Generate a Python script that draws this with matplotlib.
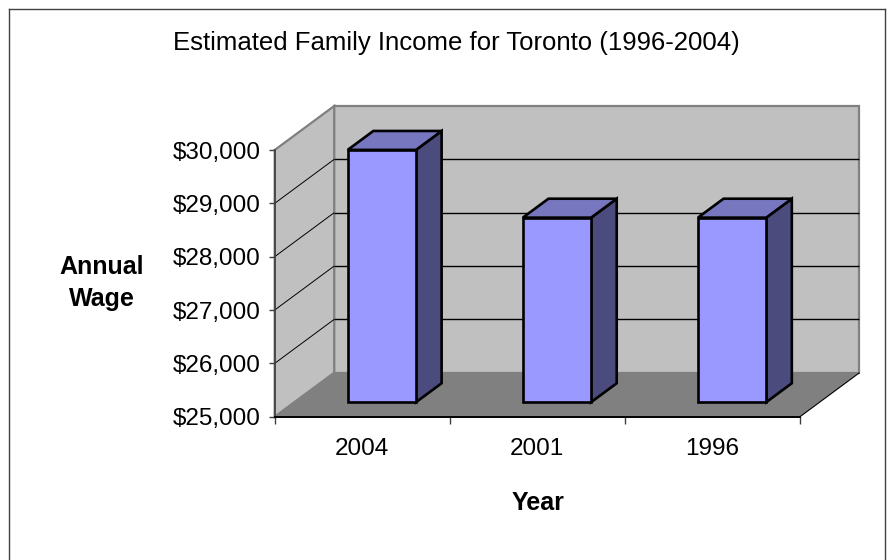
import matplotlib
matplotlib.use("Agg")
import matplotlib.pyplot as plt
from matplotlib.patches import Polygon
from matplotlib.lines import Line2D

# Data
years = ["2004", "2001", "1996"]
income = [29730, 28460, 28460]
y_ticks = [25000, 26000, 27000, 28000, 29000, 30000]
y_tick_labels = ["$25,000", "$26,000", "$27,000", "$28,000", "$29,000", "$30,000"]
title = "Estimated Family Income for Toronto (1996-2004)"
x_label = "Year"
y_label = "Annual\nWage"

plt.rcParams["font.family"] = ["Liberation Sans", "DejaVu Sans"]

W, H = 895, 560
fig = plt.figure(figsize=(W / 100, H / 100), dpi=100)
fig.patch.set_facecolor("white")


def fx(px):
    return px / W


def fy(py):
    return 1 - py / H


# Front plane of the chart box
left_px, right_px, base_px, top_px = 274.7, 800.0, 416.7, 150.0
ax = fig.add_axes([fx(left_px), fy(base_px), (right_px - left_px) / W, (base_px - top_px) / H])
n = len(years)
ymin, ymax = y_ticks[0], y_ticks[-1]
ax.set_xlim(0, n)
ax.set_ylim(ymin, ymax)
ax.patch.set_visible(False)

# Depth offset of the back wall, in data units
px_per_x = (right_px - left_px) / n
px_per_y = (base_px - top_px) / (ymax - ymin)
DX = 59.5 / px_per_x
DY = 44.0 / px_per_y


def proj(x, y, d):
    return (x + d * DX, y + d * DY)


def poly(pts, fc, ec, lw, z):
    p = Polygon([proj(*p) for p in pts], closed=True, facecolor=fc, edgecolor=ec,
                linewidth=lw, zorder=z, clip_on=False, joinstyle="miter")
    ax.add_patch(p)


def line(p0, p1, color, lw, z):
    a, b = proj(*p0), proj(*p1)
    ax.add_line(Line2D([a[0], b[0]], [a[1], b[1]], color=color, lw=lw, zorder=z,
                       clip_on=False, solid_capstyle="butt"))


wall = "#c0c0c0"
wall_edge = "#808080"
# Back wall
poly([(0, ymin, 1), (n, ymin, 1), (n, ymax, 1), (0, ymax, 1)], wall, wall_edge, 1.6, 1)
# Side wall
poly([(0, ymin, 0), (0, ymax, 0), (0, ymax, 1), (0, ymin, 1)], wall, wall_edge, 1.6, 1)
# Floor
poly([(0, ymin, 0), (n, ymin, 0), (n, ymin, 1), (0, ymin, 1)], "#808080", "none", 0, 1.5)
line((n, ymin, 0), (n, ymin, 1), "black", 0.8, 1.6)

# Gridlines on back and side walls
for v in y_ticks[1:-1]:
    line((0, v, 1), (n, v, 1), "black", 1.0, 2)
    line((0, v, 0), (0, v, 1), "black", 0.7, 2)

# 3D bars
bw = 0.39
d0, d1 = 0.33, 0.76
front_c, top_c, side_c = "#9999ff", "#7777c0", "#4b4b7d"
for i, v in enumerate(income):
    x0, x1 = i + 0.5 - bw / 2, i + 0.5 + bw / 2
    poly([(x1, ymin, d0), (x1, ymin, d1), (x1, v, d1), (x1, v, d0)], side_c, "black", 1.9, 4)
    poly([(x0, v, d0), (x1, v, d0), (x1, v, d1), (x0, v, d1)], top_c, "black", 1.9, 4)
    poly([(x0, ymin, d0), (x1, ymin, d0), (x1, v, d0), (x0, v, d0)], front_c, "black", 1.9, 5)

# Axes lines, ticks and labels
for s in ("top", "right"):
    ax.spines[s].set_visible(False)
ax.spines["left"].set_color("#404040")
ax.spines["left"].set_linewidth(1.2)
ax.spines["bottom"].set_color("black")
ax.spines["bottom"].set_linewidth(1.4)
ax.spines["left"].set_zorder(6)
ax.spines["bottom"].set_zorder(6)

ax.set_yticks(y_ticks)
ax.set_yticklabels(y_tick_labels)
ax.tick_params(axis="y", direction="out", length=4.5, width=1, color="#404040",
               pad=5.5, labelsize=17.5, labelcolor="black")
ax.set_xticks(range(n + 1))
ax.set_xticklabels([])
ax.tick_params(axis="x", which="major", direction="out", length=5, width=1, color="#404040")
ax.set_xticks([i + 0.5 for i in range(n)], minor=True)
ax.set_xticklabels(years, minor=True)
ax.tick_params(axis="x", which="minor", length=0, pad=15, labelsize=17.5)

fig.text(fx(456), fy(43), title, ha="center", va="center", fontsize=18.5)
fig.text(fx(538), fy(503), x_label, ha="center", va="center", fontsize=18, fontweight="bold")
fig.text(fx(102), fy(283), y_label, ha="center", va="center", fontsize=18,
         fontweight="bold", linespacing=1.45)

# Outer chart frame
for xs, ys in [((9, 9), (560, 9)), ((9, 885), (9, 9)), ((885, 885), (9, 560))]:
    fig.add_artist(Line2D([fx(x) for x in xs], [fy(y) for y in ys], color="#404040", lw=1.0))

fig.savefig("out.png", dpi=100)
